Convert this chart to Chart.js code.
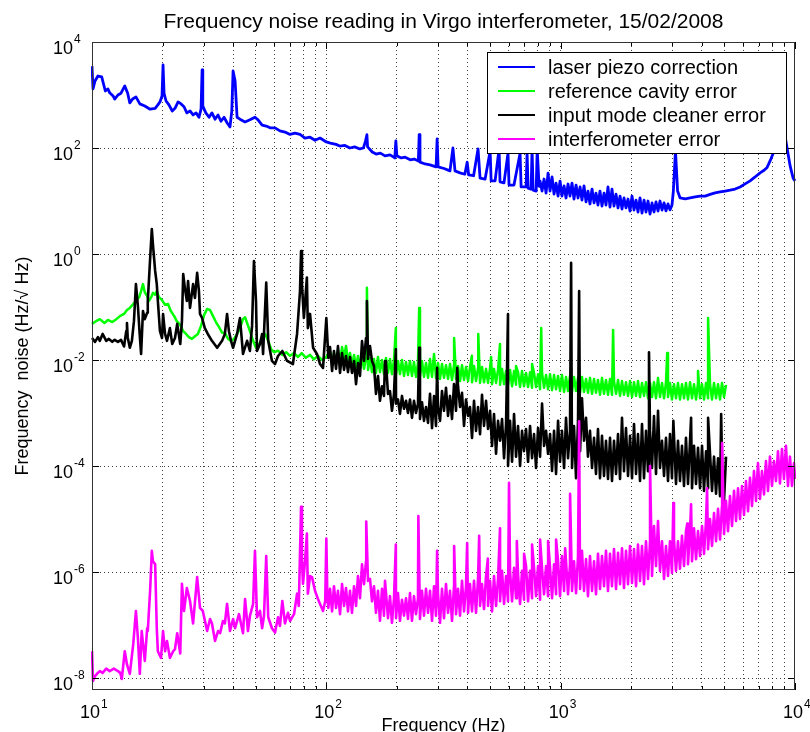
<!DOCTYPE html>
<html>
<head>
<meta charset="utf-8">
<title>Frequency noise reading in Virgo interferometer</title>
<script src="https://cdn.jsdelivr.net/npm/chart.js@4.4.1/dist/chart.umd.min.js"></script>
<style>
  body { margin: 0; background: #fff; }
  #noiseChart { display: block; }
</style>
</head>
<body>
<canvas id="noiseChart" width="810" height="732"></canvas>
<script>
// All values: frequency in Hz, noise in Hz/sqrt(Hz)

const laserPiezo = [
  [10, 3500], [10.1, 1300], [10.3, 1840], [10.6, 2280], [11.0, 2200], [11.4, 1190], [11.7, 1300], [11.9, 1100],
  [12.3, 960], [12.5, 840], [12.9, 1000], [13.3, 1080], [13.8, 1480], [14.2, 1080], [14.5, 710], [14.9, 840],
  [15.4, 920], [16.0, 680], [16.8, 620], [17.7, 540], [18.6, 560], [19.1, 650], [19.5, 740], [19.9, 960],
  [20.1, 3680], [20.3, 1080], [20.7, 770], [21.3, 650], [22.0, 500], [22.6, 560], [23.3, 740], [24.0, 680],
  [24.7, 600], [25.4, 460], [26.2, 500], [27.0, 420], [27.8, 460], [28.6, 380], [29.2, 540], [29.5, 2960],
  [29.7, 620], [30.6, 460], [31.6, 380], [32.5, 460], [33.5, 350], [34.5, 420], [35.5, 320], [36.6, 380],
  [37.7, 300], [38.8, 250], [39.5, 500], [40.0, 2840], [40.8, 1840], [41.6, 380], [42.8, 350], [45.0, 310],
  [47.2, 340], [49.6, 380], [51.1, 340], [53.2, 270], [55.4, 260], [57.5, 240], [60.4, 240], [63.4, 210],
  [66.6, 200], [70.0, 180], [73.5, 190], [77.2, 180], [81.1, 154], [85.2, 160], [89.5, 140], [94.0, 154],
  [100, 130], [104, 124], [110, 117], [114, 109], [120, 112], [126, 100], [132, 105], [139, 96],
  [144, 100], [147, 136], [149, 178], [150, 105], [157, 84], [163, 77], [170, 80], [178, 71],
  [187, 74], [196, 65], [198, 136], [200, 71], [209, 65], [217, 67], [228, 60], [237, 62],
  [247, 57], [249, 178], [251, 54], [264, 50], [277, 48], [294, 44], [297, 148], [300, 44],
  [318, 41], [337, 37], [347, 100], [354, 37], [372, 34], [390, 32], [399, 54], [405, 31],
  [425, 30], [444, 96], [453, 27], [476, 26], [500, 88], [505, 24], [525, 24], [546, 96],
  [551, 23], [573, 22], [596, 80], [602, 20], [632, 20], [671, 80], [678, 18.4], [712, 18.4],
  [719, 80], [726, 17.5], [748, 16.8], [755, 96], [763, 16], [786, 15.4], [794, 96], [809, 19],
  [3026, 15.4], [3090, 88],
  [3155, 15.4], [3233, 11.4], [3402, 11], [3567, 11.4], [3752, 11.9], [3935, 12.4], [4132, 12.4], [4342, 13.3],
  [4560, 14.2], [4790, 14.8], [5031, 15.4], [5284, 16], [5552, 16.8], [5831, 18.4], [6125, 21], [6433, 24],
  [6755, 28.4], [7096, 34], [7380, 38], [7602, 43], [7829, 57], [8148, 88], [8472, 136], [8806, 195],
  [9066, 170], [9249, 100], [9530, 46], [9818, 27], [10000, 24]
];

// below ~100 Hz the error signals are read point by point
const refCavityLow = [
  [10, 0.048], [10.4, 0.054], [10.8, 0.059], [11.3, 0.050], [11.7, 0.057], [12.2, 0.052], [12.7, 0.059], [13.2, 0.068],
  [13.7, 0.074], [14.1, 0.088], [14.5, 0.096], [15.0, 0.114], [15.4, 0.13], [15.9, 0.154], [16.2, 0.20], [16.5, 0.27],
  [16.8, 0.19], [17.2, 0.16], [17.5, 0.13], [17.9, 0.154], [18.2, 0.185], [18.6, 0.17], [18.9, 0.20], [19.3, 0.154],
  [19.9, 0.135], [20.5, 0.11], [21.1, 0.114], [21.7, 0.084], [22.4, 0.068], [23.0, 0.054], [23.8, 0.046], [24.5, 0.035],
  [25.2, 0.031], [25.9, 0.027], [26.7, 0.025], [27.5, 0.028], [28.3, 0.031], [29.2, 0.044], [30.1, 0.071], [31.0, 0.092],
  [31.9, 0.088], [32.8, 0.068], [33.8, 0.052], [34.8, 0.042], [35.9, 0.033], [36.9, 0.032], [38.1, 0.025], [39.2, 0.023],
  [40.4, 0.025], [41.6, 0.031], [42.8, 0.040], [44.1, 0.059], [45.0, 0.064], [45.9, 0.050], [47.2, 0.035], [48.7, 0.023],
  [50.1, 0.017], [51.6, 0.020], [53.2, 0.025], [54.8, 0.031], [56.5, 0.023], [58.1, 0.016], [59.9, 0.014], [62.2, 0.015],
  [64.9, 0.0125], [67.4, 0.014], [70.0, 0.012], [72.8, 0.0135], [75.7, 0.0114], [78.5, 0.0135], [81.8, 0.011], [85.2, 0.0125],
  [88.5, 0.0103], [92.1, 0.012], [95.8, 0.0100], [100, 0.0114]
];

const inputModeCleanerLow = [
  [10, 0.026], [10.3, 0.022], [10.6, 0.027], [10.8, 0.023], [11.1, 0.031], [11.5, 0.023], [11.8, 0.025], [12.2, 0.022],
  [12.5, 0.024], [12.9, 0.022], [13.3, 0.024], [13.7, 0.018], [14.0, 0.035], [14.1, 0.050], [14.2, 0.027], [14.5, 0.017],
  [14.8, 0.023], [15.1, 0.054], [15.4, 0.27], [15.7, 0.104], [16.0, 0.028], [16.2, 0.013], [16.5, 0.084], [16.8, 0.059],
  [17.2, 0.078], [17.3, 0.13], [17.7, 0.80], [18.0, 2.96], [18.2, 1.50], [18.6, 0.48], [18.9, 0.27], [19.1, 0.13],
  [19.5, 0.035], [19.9, 0.026], [20.1, 0.074], [20.5, 0.031], [20.9, 0.023], [21.5, 0.040], [22.0, 0.020], [22.6, 0.026],
  [23.1, 0.048], [23.8, 0.020], [24.2, 0.054], [24.5, 0.42], [24.9, 0.23], [25.4, 0.13], [25.7, 0.31], [26.2, 0.096],
  [27.0, 0.27], [27.5, 0.148], [28.1, 0.44], [28.6, 0.20], [28.9, 0.074], [29.5, 0.062], [30.3, 0.040], [31.2, 0.031],
  [32.5, 0.023], [34.2, 0.017], [35.9, 0.023], [36.9, 0.031], [37.7, 0.074], [38.4, 0.035], [39.2, 0.023], [40.0, 0.017],
  [41.6, 0.031], [42.8, 0.062], [44.1, 0.013], [45.9, 0.023], [47.2, 0.0148], [48.2, 0.044], [49.1, 0.74], [50.1, 0.13],
  [50.6, 0.0148], [52.1, 0.020], [53.2, 0.031], [53.7, 0.013], [55.4, 0.29], [56.5, 0.023], [58.6, 0.0096], [60.4, 0.0084],
  [62.2, 0.0119], [64.9, 0.0148], [68.0, 0.0096], [72.0, 0.0084], [75.0, 0.031], [77.2, 0.20], [78.0, 1.14], [78.7, 0.27],
  [80.2, 0.062], [82.6, 0.36], [83.4, 0.040], [85.2, 0.074], [87.8, 0.017], [91.2, 0.013], [94.0, 0.0084], [96.8, 0.0071],
  [100, 0.062], [102, 0.0109]
];

const interferometerLow = [
  [10, 3.2e-8], [10.1, 8.8e-9], [10.3, 1.09e-8], [10.5, 1.2e-8], [10.8, 1.35e-8], [11.1, 1.25e-8], [11.5, 1.5e-8], [11.9, 1.35e-8],
  [12.4, 1.5e-8], [12.9, 1.35e-8], [13.2, 1.25e-8], [13.4, 9.6e-9], [13.8, 3.2e-8], [14.1, 1.8e-8], [14.5, 1.2e-8], [15.0, 4.4e-8],
  [15.4, 1.84e-7], [15.7, 5.6e-8], [16.0, 1.2e-8], [16.3, 7.7e-8], [16.8, 2.1e-8], [17.2, 8.7e-8], [17.3, 7.7e-8], [17.7, 4.4e-7],
  [18.0, 2.5e-6], [18.2, 1.6e-6], [18.6, 1.4e-6], [18.9, 8.7e-8], [19.1, 3.2e-8], [19.7, 2.4e-8], [20.1, 7.7e-8], [20.5, 3.2e-8],
  [20.9, 5e-8], [21.5, 2.4e-8], [22.2, 3.2e-8], [22.6, 3.5e-8], [23.1, 7e-8], [23.8, 2.9e-8], [24.2, 6e-7], [24.7, 1.84e-7],
  [25.4, 5e-7], [26.2, 2.84e-7], [27.0, 1.07e-7], [28.1, 8e-7], [28.9, 2.1e-7], [29.7, 1.84e-7], [31.0, 7.7e-8], [31.9, 1.3e-7],
  [32.5, 1.07e-7], [33.5, 5e-8], [34.5, 7.7e-8], [35.2, 7e-8], [36.2, 1.19e-7], [36.9, 1.07e-7], [37.7, 2.5e-7], [38.8, 7.7e-8],
  [40.0, 1.3e-7], [40.8, 8.7e-8], [42.4, 1.6e-7], [44.1, 7e-8], [45.0, 3.1e-7], [46.3, 7.7e-8], [47.2, 1.48e-7], [48.7, 2.5e-7],
  [49.6, 2.5e-6], [50.6, 1.4e-7], [52.1, 1.84e-7], [53.2, 8.7e-8], [54.2, 1.48e-7], [55.4, 2e-6], [56.5, 1.4e-7], [58.6, 8.7e-8],
  [60.4, 7.2e-8], [62.2, 1.4e-7], [63.4, 9.6e-8], [64.9, 2.84e-7], [66.6, 1.07e-7], [68.6, 1.7e-7], [70.0, 1.19e-7], [72.8, 1.6e-7],
  [75.0, 3.9e-7], [76.3, 2.28e-7], [78.0, 1.7e-5], [78.7, 1.6e-6], [79.5, 6e-7], [81.1, 1.6e-6], [82.6, 5.3e-6], [83.4, 3.9e-7],
  [85.2, 8.4e-7], [86.9, 8e-7], [89.5, 4.4e-7], [92.1, 3.1e-7], [94.0, 2.5e-7], [96.8, 1.84e-7], [98.9, 2.84e-7], [100, 4.3e-6],
  [101, 3.5e-7], [102, 2.1e-7]
];

// above ~100 Hz the traces are dense noise bands: frequencies of the band samples,
// then the band top/bottom readings of each trace on those frequencies
const bandFreq = [
  103.7, 105.8, 107.8, 110.0, 112.1, 114.4, 116.7, 119.0, 121.3, 123.7,
  126.2, 128.7, 131.3, 133.9, 136.5, 139.2, 142.0, 144.8, 147.7, 150.6,
  153.6, 156.6, 159.7, 162.9, 166.1, 169.4, 172.8, 176.2, 179.7, 183.3,
  186.9, 190.6, 194.4, 198.3, 202.2, 206.2, 210.3, 214.5, 218.8, 223.1,
  227.5, 232.0, 236.6, 241.3, 246.1, 251.0, 256.0, 261.1, 266.3, 271.6,
  277.0, 282.5, 288.1, 293.8, 299.6, 305.6, 311.6, 317.8, 324.1, 330.6,
  337.1, 343.8, 350.6, 357.6, 364.7, 372.0, 379.3, 386.9, 394.5, 402.4,
  410.3, 418.5, 426.8, 435.3, 444.0, 452.8, 461.7, 470.9, 480.3, 489.8,
  499.6, 509.5, 519.5, 529.9, 540.4, 551.2, 562.1, 573.3, 584.6, 596.2,
  608.1, 620.2, 632.5, 645.0, 657.8, 670.9, 684.1, 697.7, 711.6, 725.8,
  740.2, 754.9, 769.8, 785.1, 800.7, 816.6, 832.8, 849.4, 866.3, 883.4,
  900.9, 918.8, 937.1, 955.7, 974.7, 994.0, 1013, 1034, 1054, 1075,
  1096, 1118, 1140, 1163, 1186, 1210, 1233, 1258, 1283, 1308,
  1334, 1361, 1388, 1415, 1443, 1472, 1501, 1531, 1561, 1592,
  1624, 1656, 1689, 1723, 1757, 1792, 1827, 1863, 1900, 1938,
  1977, 2016, 2056, 2097, 2138, 2181, 2224, 2268, 2313, 2359,
  2406, 2454, 2502, 2552, 2603, 2654, 2707, 2761, 2815, 2871,
  2928, 2986, 3045, 3106, 3167, 3230, 3294, 3360, 3426, 3494,
  3565, 3635, 3707, 3781, 3856, 3933, 4011, 4090, 4172, 4255,
  4339, 4425, 4513, 4603, 4694, 4787, 4881, 4978, 5077, 5177,
  5280, 5385, 5492, 5601, 5712, 5825, 5940, 6058, 6178, 6301,
  6426, 6553, 6683, 6816, 6951, 7089, 7229, 7373, 7519, 7668,
  7820, 7975, 8134, 8295, 8460, 8627, 8799, 8973, 9151, 9333,
  9518, 9707, 9899, 10000
];

// laser piezo band from 817 Hz to 2986 Hz (starts at bandFreq[105])
const laserPiezoBandStart = 105;
const laserPiezoBand = [
  23.8, 15.4, 26, 14.1, 33.7, 15.4, 28.4, 13.5, 21.8, 12.4,
  23.8, 12.4, 19.2, 11.4, 20.9, 12.4, 21.8, 10.9, 20.0, 11.4,
  18.4, 10.4, 19.2, 9.6, 15.4, 8.8, 16.8, 9.2, 14.1, 8.4,
  15.4, 8.05, 14.1, 8.4, 18.4, 7.7, 16.8, 8.05, 13.5, 7.4,
  12.4, 7.06, 11.4, 7.4, 10.9, 6.47, 12.4, 6.76, 10.4, 6.2,
  11.4, 5.94, 10.4, 6.2, 10.0, 5.68, 9.17, 6.2, 9.6, 6.47,
  10.0, 6.76, 9.2, 6.5, 8.8, 6.8, 8.4
];

const refCavityBand = [
  0.0148, 0.0088, 0.0136, 0.0084, 0.0154, 0.0092, 0.0175, 0.0109, 0.0184, 0.0096,
  0.0136, 0.0077, 0.0124, 0.0074, 0.0119, 0.0071, 0.0114, 0.0068, 0.0109, 0.0065,
  0.0109, 0.0059, 0.0104, 0.0057, 0.0114, 0.0059, 0.0100, 0.0054, 0.0109, 0.0057,
  0.0104, 0.0054, 0.0100, 0.0052, 0.0096, 0.0054, 0.0100, 0.0050, 0.0092, 0.0052,
  0.0096, 0.0050, 0.0092, 0.0048, 0.0088, 0.0050, 0.0096, 0.0048, 0.0088, 0.0046,
  0.0104, 0.0048, 0.0130, 0.0046, 0.0088, 0.0044, 0.0084, 0.0046, 0.0080, 0.0044,
  0.0084, 0.0042, 0.0080, 0.0044, 0.0077, 0.0040, 0.0080, 0.0042, 0.0074, 0.0040,
  0.0074, 0.0038, 0.0077, 0.0040, 0.0071, 0.0037, 0.0074, 0.0038, 0.0068, 0.0037,
  0.0071, 0.0035, 0.0068, 0.0037, 0.0065, 0.0034, 0.0068, 0.0035, 0.0062, 0.0034,
  0.0065, 0.0032, 0.0062, 0.0034, 0.0059, 0.0031, 0.0062, 0.0032, 0.0057, 0.0031,
  0.0059, 0.0030, 0.0057, 0.0031, 0.0054, 0.0028, 0.0057, 0.0030, 0.0052, 0.0028,
  0.0054, 0.0027, 0.0052, 0.0028, 0.0050, 0.0026, 0.0052, 0.0025, 0.0048, 0.0026,
  0.0050, 0.0025, 0.0048, 0.0026, 0.0046, 0.0024, 0.0048, 0.0025, 0.0044, 0.0024,
  0.0046, 0.0023, 0.0044, 0.0024, 0.0042, 0.0022, 0.0046, 0.0023, 0.0042, 0.0022,
  0.0044, 0.0022, 0.0040, 0.0023, 0.0042, 0.0021, 0.0040, 0.0022, 0.0038, 0.0021,
  0.0040, 0.0020, 0.0038, 0.0021, 0.0040, 0.0020, 0.0037, 0.0021, 0.0038, 0.0019,
  0.0037, 0.0020, 0.0038, 0.0019, 0.0046, 0.0020, 0.0037, 0.0019, 0.0038, 0.0020,
  0.0037, 0.0018, 0.0035, 0.0019, 0.0037, 0.0018, 0.0035, 0.0019, 0.0037, 0.0018,
  0.0038, 0.0019, 0.0035, 0.0018, 0.0037, 0.0019, 0.0035, 0.0018, 0.0037, 0.0019,
  0.0035, 0.0018, 0.0037, 0.0019, 0.0035, 0.0018, 0.0037, 0.0020, 0.0034
];

const inputModeCleanerBand = [
  0.0176, 0.0062, 0.0148, 0.0068, 0.0183, 0.0057, 0.0135, 0.0065, 0.0119, 0.0059,
  0.0114, 0.0057, 0.0096, 0.0035, 0.0088, 0.0050, 0.0228, 0.0096, 0.0260, 0.0105,
  0.0183, 0.0096, 0.0077, 0.0023, 0.0050, 0.0017, 0.0032, 0.0021, 0.0088, 0.0023,
  0.0026, 0.0011, 0.0023, 0.0015, 0.0018, 0.00096, 0.0021, 0.0012, 0.0017, 0.0010,
  0.0018, 0.00081, 0.0017, 0.0010, 0.0015, 0.00077, 0.0016, 0.00071, 0.0013, 0.00065,
  0.0023, 0.00052, 0.0021, 0.00057, 0.0013, 0.00071, 0.0026, 0.0011, 0.0030, 0.00088,
  0.0021, 0.00077, 0.0035, 0.0011, 0.0032, 0.0013, 0.0024, 0.00057, 0.0018, 0.00088,
  0.0013, 0.00034, 0.0017, 0.00046, 0.0013, 0.00040, 0.0022, 0.00057, 0.0017, 0.00050,
  0.0011, 0.00024, 0.00096, 0.00017, 0.00071, 0.00030, 0.00077, 0.00014, 0.00062, 0.00010,
  0.00071, 0.00012, 0.00096, 0.00015, 0.00057, 0.00010, 0.00046, 0.00019, 0.00050, 0.00012,
  0.00057, 0.00014, 0.00040, 0.000092, 0.00052, 0.00015, 0.0015, 0.00024, 0.00046, 0.00017,
  0.00040, 0.000081, 0.00046, 0.000071, 0.00071, 0.00012, 0.00046, 0.000092, 0.00081, 0.00014,
  0.00046, 0.000092, 0.00057, 0.000059, 0.00071, 0.00019, 0.0019, 0.00030, 0.00081, 0.00015,
  0.00046, 0.000092, 0.00034, 0.000071, 0.00050, 0.000059, 0.00037, 0.000065, 0.00030, 0.000057,
  0.00034, 0.000052, 0.00030, 0.000071, 0.00040, 0.000057, 0.00081, 0.000080, 0.00052, 0.000065,
  0.00037, 0.000059, 0.00062, 0.000071, 0.00040, 0.000052, 0.00062, 0.000059, 0.00046, 0.000080,
  0.00046, 0.000092, 0.00088, 0.000071, 0.0011, 0.000092, 0.00030, 0.000065, 0.00034, 0.000052,
  0.00040, 0.000059, 0.00071, 0.000046, 0.00030, 0.000052, 0.00024, 0.000042, 0.00034, 0.000046,
  0.00030, 0.000038, 0.00024, 0.000046, 0.00022, 0.000038, 0.00024, 0.000034, 0.00019, 0.000038,
  0.00017, 0.000034, 0.00015, 0.000030, 0.00014, 0.000027, 0.00012, 0.000022, 0.00015
];

const interferometerBand = [
  4.8e-7, 1.8e-7, 5.4e-7, 2.1e-7, 4.4e-7, 1.6e-7, 5.9e-7, 2.3e-7, 5.0e-7, 1.8e-7,
  4.4e-7, 1.7e-7, 5.4e-7, 2.3e-7, 8.4e-7, 3.2e-7, 1.4e-6, 5.9e-7, 1.6e-6, 6.8e-7,
  7.4e-7, 2.8e-7, 5.4e-7, 1.7e-7, 4.4e-7, 1.2e-7, 4.8e-7, 1.5e-7, 6.8e-7, 1.35e-7,
  3.5e-7, 1.1e-7, 3.2e-7, 1.35e-7, 4.0e-7, 1.2e-7, 3.0e-7, 1.5e-7, 3.2e-7, 1.3e-7,
  4.0e-7, 1.2e-7, 3.5e-7, 1.6e-7, 3.2e-7, 1.3e-7, 4.4e-7, 1.5e-7, 4.8e-7, 1.7e-7,
  4.4e-7, 1.2e-7, 5.4e-7, 1.5e-7, 4.0e-7, 1.1e-7, 4.8e-7, 1.35e-7, 5.9e-7, 1.7e-7,
  4.4e-7, 1.2e-7, 5.4e-7, 1.6e-7, 4.8e-7, 1.5e-7, 6.8e-7, 1.8e-7, 5.4e-7, 1.7e-7,
  5.9e-7, 1.8e-7, 6.8e-7, 1.7e-7, 7.4e-7, 2.3e-7, 5.9e-7, 2.0e-7, 8.4e-7, 2.3e-7,
  6.8e-7, 1.8e-7, 8.4e-7, 2.3e-7, 7.4e-7, 2.8e-7, 1.05e-6, 2.5e-7, 8.4e-7, 2.8e-7,
  1.05e-6, 2.8e-7, 1.2e-6, 3.2e-7, 9.2e-7, 2.5e-7, 1.05e-6, 3.0e-7, 1.3e-6, 2.8e-7,
  1.05e-6, 3.2e-7, 1.2e-6, 3.5e-7, 1.3e-6, 3.0e-7, 1.15e-6, 3.8e-7, 1.3e-6, 3.5e-7,
  1.2e-6, 3.2e-7, 1.4e-6, 3.8e-7, 1.6e-6, 3.5e-7, 2.0e-6, 4.4e-7, 1.6e-6, 3.8e-7,
  1.4e-6, 4.4e-7, 1.6e-6, 4.0e-7, 2.0e-6, 4.8e-7, 2.5e-6, 4.4e-7, 1.75e-6, 3.5e-7,
  2.0e-6, 4.4e-7, 1.6e-6, 3.8e-7, 2.2e-6, 4.8e-7, 2.0e-6, 5.4e-7, 2.5e-6, 4.4e-7,
  2.2e-6, 5.4e-7, 2.7e-6, 4.8e-7, 2.3e-6, 5.9e-7, 2.8e-6, 5.0e-7, 2.5e-6, 5.9e-7,
  3.1e-6, 6.2e-7, 2.7e-6, 5.4e-7, 3.3e-6, 6.8e-7, 3.1e-6, 5.9e-7, 3.8e-6, 7.4e-7,
  3.8e-6, 8.4e-7, 7.4e-6, 1.3e-6, 9.2e-6, 1.05e-6, 3.8e-6, 7.4e-7, 3.1e-6, 8.4e-7,
  3.8e-6, 9.6e-7, 4.1e-6, 1.05e-6, 3.8e-6, 1.15e-6, 4.8e-6, 1.3e-6, 5.9e-6, 1.4e-6,
  5.9e-6, 1.6e-6, 6.7e-6, 1.75e-6, 5.9e-6, 2.0e-6, 7.4e-6, 2.2e-6, 9.2e-6, 2.7e-6,
  1.0e-5, 3.1e-6, 1.3e-5, 3.8e-6, 1.55e-5, 4.1e-6, 1.76e-5, 5.2e-6, 2.2e-5, 5.9e-6,
  2.7e-5, 7.4e-6, 3.4e-5, 9.2e-6, 3.8e-5, 1.0e-5, 4.2e-5, 1.2e-5, 5.2e-5, 1.4e-5,
  6.0e-5, 1.76e-5, 8.0e-5, 2.2e-5, 1.14e-4, 2.4e-5, 8.0e-5, 2.9e-5, 1.24e-4, 3.4e-5,
  1.5e-4, 4.2e-5, 1.24e-4, 5.2e-5, 1.9e-4, 4.7e-5, 2.1e-4, 5.7e-5, 2.4e-4, 4.2e-5,
  1.5e-4, 4.2e-5, 1.14e-4, 5.7e-5
];

// narrow lines standing out of the bands
const refCavitySpikes = [
  [149, 0.23], [198, 0.040], [249, 0.096], [351, 0.026], [418, 0.012], [445, 0.031], [505, 0.0114], [551, 0.020],
  [645, 0.0077], [755, 0.0084], [826, 0.040], [1674, 0.037], [2848, 0.0135], [3856, 0.0062], [4257, 0.062]
];
const inputModeCleanerSpikes = [
  [149, 0.13], [178, 0.0096], [198, 0.016], [249, 0.017], [297, 0.0071], [362, 0.0071], [596, 0.074], [1108, 0.68],
  [1199, 0.20], [2382, 0.014], [3026, 0.00071], [3602, 0.00081], [4257, 0.00081], [4840, 0.00096]
];
const interferometerSpikes = [
  [148, 9e-6], [178, 6.8e-7], [198, 3.3e-6], [247, 1.14e-5], [297, 2.5e-6], [351, 3.1e-6], [399, 3.5e-6], [449, 4.8e-6],
  [489, 1.8e-6], [551, 6.7e-6], [602, 4.8e-5], [650, 3.85e-6], [698, 2.2e-6], [755, 3.3e-6], [817, 4.1e-6], [884, 3.85e-6],
  [956, 4.1e-6], [1045, 2.8e-6], [1097, 3e-5], [1199, 7e-4], [2407, 1e-4], [3026, 2e-5], [3470, 8.2e-6], [3602, 1.9e-5],
  [4215, 3.8e-5], [4887, 2.7e-4]
];

const seriesNames = ['laser piezo correction', 'reference cavity error', 'input mode cleaner error', 'interferometer error'];
const seriesColors = ['#0000ff', '#00ff00', '#000000', '#ff00ff'];
const seriesWidths = [2.8, 2.5, 2.6, 2.6];

// axis ticks: labelled decades and the exponents written next to "10"
const xTickValues = [10, 100, 1000, 10000];
const xTickExponents = ['1', '2', '3', '4'];
const yTickValues = [1e-8, 1e-6, 1e-4, 1e-2, 1, 1e2, 1e4];
const yTickExponents = ['-8', '-6', '-4', '-2', '0', '2', '4'];

const FONT = '"Liberation Sans", Arial, Helvetica, sans-serif';

function joinTrace(points, band, spikes, start = 0) {
  const banded = band.map((v, i) => [bandFreq[start + i], v]);
  return points.concat(banded, spikes).sort((a, b) => a[0] - b[0]);
}

// x grid/ticks at every 1..9 x decade
function xMinorValues() {
  const out = [];
  for (let d = 10; d < 10000; d *= 10) {
    for (let m = 1; m < 10; m++) {
      if (m === 1 && d === 10) continue;
      out.push(m * d);
    }
  }
  return out;
}

const matlabAxes = {
  id: 'matlabAxes',
  afterDraw(chart) {
    const { ctx, chartArea: a, scales: { x, y } } = chart;
    ctx.save();

    // tick marks drawn inside the box, like MATLAB
    ctx.strokeStyle = '#000';
    ctx.lineWidth = 1;
    ctx.beginPath();
    xMinorValues().concat([10, 10000]).forEach(v => {
      const px = Math.round(x.getPixelForValue(v)) + 0.5;
      const len = xTickValues.includes(v) ? 7 : 4;
      ctx.moveTo(px, a.bottom); ctx.lineTo(px, a.bottom - len);
      ctx.moveTo(px, a.top); ctx.lineTo(px, a.top + len);
    });
    yTickValues.forEach(v => {
      const py = Math.round(y.getPixelForValue(v)) + 0.5;
      ctx.moveTo(a.left, py); ctx.lineTo(a.left + 7, py);
      ctx.moveTo(a.right, py); ctx.lineTo(a.right - 7, py);
    });
    ctx.stroke();

    // box
    ctx.strokeStyle = '#333';
    ctx.strokeRect(a.left + 0.5, a.top + 0.5, a.right - a.left - 1, a.bottom - a.top - 1);

    // tick labels 10^n
    ctx.fillStyle = '#000';
    ctx.textBaseline = 'alphabetic';
    xTickValues.forEach((v, i) => {
      const px = x.getPixelForValue(v);
      ctx.font = '18px ' + FONT;
      ctx.textAlign = 'right';
      ctx.fillText('10', px + 8, 718);
      ctx.font = '12px ' + FONT;
      ctx.textAlign = 'left';
      ctx.fillText(xTickExponents[i], px + 9, 708);
    });
    yTickValues.forEach((v, i) => {
      const py = y.getPixelForValue(v);
      ctx.font = '18px ' + FONT;
      ctx.textAlign = 'right';
      ctx.fillText('10', 73, py + 12);
      ctx.font = '12px ' + FONT;
      ctx.textAlign = 'left';
      ctx.fillText(yTickExponents[i], 74, py + 1);
    });

    // titles
    ctx.textAlign = 'center';
    ctx.font = '21px ' + FONT;
    ctx.fillText('Frequency noise reading in Virgo interferometer, 15/02/2008', (a.left + a.right) / 2, 28);
    ctx.font = '18px ' + FONT;
    ctx.fillText('Frequency (Hz)', (a.left + a.right) / 2, 731);
    ctx.save();
    ctx.translate(28, (a.top + a.bottom) / 2);
    ctx.rotate(-Math.PI / 2);
    ctx.fillText('Frequency  noise (Hz/\u221A Hz)', 0, 0);
    ctx.restore();

    // legend box, top right inside the axes
    const lx = 487, ly = 52, lw = 299, lh = 101;
    ctx.fillStyle = '#fff';
    ctx.fillRect(lx, ly, lw, lh);
    ctx.strokeStyle = '#000';
    ctx.lineWidth = 1;
    ctx.strokeRect(lx + 0.5, ly + 0.5, lw, lh);
    ctx.font = '20px ' + FONT;
    ctx.textAlign = 'left';
    ctx.textBaseline = 'middle';
    chart.data.datasets.forEach((ds, i) => {
      const rowY = 67 + i * 24;
      ctx.strokeStyle = ds.borderColor;
      ctx.lineWidth = 2;
      ctx.beginPath();
      ctx.moveTo(498, rowY); ctx.lineTo(535, rowY);
      ctx.stroke();
      ctx.fillStyle = '#000';
      ctx.fillText(ds.label, 548, rowY + 1);
    });
    ctx.restore();
  }
};

const allSeries = [
  joinTrace(laserPiezo, laserPiezoBand, [], laserPiezoBandStart),
  joinTrace(refCavityLow, refCavityBand, refCavitySpikes),
  joinTrace(inputModeCleanerLow, inputModeCleanerBand, inputModeCleanerSpikes),
  joinTrace(interferometerLow, interferometerBand, interferometerSpikes)
];

new Chart(document.getElementById('noiseChart'), {
  type: 'line',
  data: {
    datasets: allSeries.map((s, i) => ({
      label: seriesNames[i],
      data: s.map(([f, v]) => ({ x: f, y: v })),
      borderColor: seriesColors[i],
      borderWidth: seriesWidths[i],
      borderJoinStyle: 'round',
      pointRadius: 0,
      tension: 0,
      fill: false,
      clip: 1,
      order: 4 - i
    }))
  },
  options: {
    responsive: false,
    animation: false,
    devicePixelRatio: 1,
    layout: { padding: { top: 42, right: 15, left: 0, bottom: 0 } },
    plugins: {
      legend: { display: false },
      tooltip: { enabled: false },
      title: { display: false }
    },
    scales: {
      x: {
        type: 'logarithmic',
        min: 10,
        max: 10000,
        afterBuildTicks: s => { s.ticks = xMinorValues().map(v => ({ value: v })); },
        afterFit: s => { s.height = 42; },
        ticks: { display: false },
        grid: { drawTicks: false, color: 'rgba(0,0,0,0.75)', lineWidth: 1 },
        border: { display: false, dash: [1, 3] }
      },
      y: {
        type: 'logarithmic',
        min: 5.94e-9,
        max: 1e4,
        afterBuildTicks: s => { s.ticks = yTickValues.slice(0, -1).map(v => ({ value: v })); },
        afterFit: s => { s.width = 92; },
        ticks: { display: false },
        grid: { drawTicks: false, color: 'rgba(0,0,0,0.75)', lineWidth: 1 },
        border: { display: false, dash: [1, 3] }
      }
    }
  },
  plugins: [matlabAxes]
});
</script>
</body>
</html>
